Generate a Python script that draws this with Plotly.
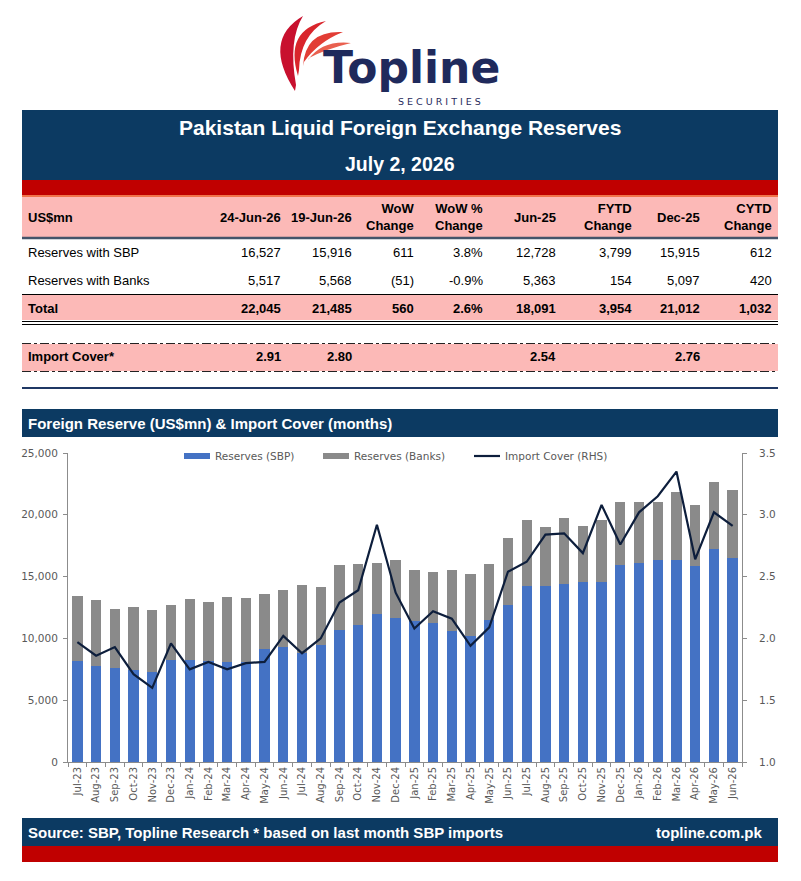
import plotly.graph_objects as go

# page body has an 8px margin: the figure is drawn inside it
OFF = 8
W, H = 784, 864


def fx(x):
    return (x - OFF) / W


def fy(y):
    return 1 - (y - OFF) / H


# ---------------- data ----------------
months = ["Jul-23", "Aug-23", "Sep-23", "Oct-23", "Nov-23", "Dec-23", "Jan-24", "Feb-24", "Mar-24",
          "Apr-24", "May-24", "Jun-24", "Jul-24", "Aug-24", "Sep-24", "Oct-24", "Nov-24", "Dec-24",
          "Jan-25", "Feb-25", "Mar-25", "Apr-25", "May-25", "Jun-25", "Jul-25", "Aug-25", "Sep-25",
          "Oct-25", "Nov-25", "Dec-25", "Jan-26", "Feb-26", "Mar-26", "Apr-26", "May-26", "Jun-26"]
reserves_sbp = [8140, 7790, 7580, 7470, 7250, 8230, 8230, 8140, 8060, 8060, 9140, 9330,
                8820, 9440, 10710, 11110, 12000, 11680, 11380, 11220, 10630, 10220, 11510, 12728,
                14270, 14270, 14370, 14540, 14540, 15915, 16130, 16320, 16370, 15830, 17210, 16527]
reserves_banks = [5320, 5340, 4830, 5100, 5070, 4450, 4980, 4830, 5320, 5240, 4480, 4610,
                  5530, 4750, 5260, 4940, 4130, 4690, 4180, 4150, 4930, 5020, 4540, 5363,
                  5340, 4770, 5400, 4580, 5070, 5097, 4880, 4740, 5450, 4990, 5420, 5517]
import_cover = [1.97, 1.86, 1.93, 1.71, 1.60, 1.96, 1.75, 1.81, 1.75, 1.80, 1.81, 2.02,
                1.88, 2.00, 2.29, 2.39, 2.92, 2.37, 2.08, 2.22, 2.16, 1.94, 2.09, 2.54,
                2.62, 2.84, 2.85, 2.69, 3.08, 2.76, 3.02, 3.15, 3.35, 2.64, 3.02, 2.91]
series_names = ["Reserves (SBP)", "Reserves (Banks)", "Import Cover (RHS)"]

# table
table_headers = ["24-Jun-26", "19-Jun-26", "WoW<br>Change", "WoW %<br>Change", "Jun-25",
                 "FYTD<br>Change", "Dec-25", "CYTD<br>Change"]
row_sbp = ["16,527", "15,916", "611", "3.8%", "12,728", "3,799", "15,915", "612"]
row_banks = ["5,517", "5,568", "(51)", "-0.9%", "5,363", "154", "5,097", "420"]
row_total = ["22,045", "21,485", "560", "2.6%", "18,091", "3,954", "21,012", "1,032"]
row_cover = ["2.91", "2.80", "", "", "2.54", "", "2.76", ""]

title = "Pakistan Liquid Foreign Exchange Reserves"
date_text = "July 2, 2026"
chart_title = "Foreign Reserve (US$mn) & Import Cover (months)"
source_text = "Source: SBP, Topline Research * based on last month SBP imports"
site_text = "topline.com.pk"

# ---------------- styles ----------------
NAVY = "#0c3a62"
RED = "#c00000"
PINK = "#fcb9b7"
BLUE = "#4472c4"
GRAY = "#8a8a8a"
LINE = "#0d1e3c"
AX = "#8c8c8c"
TXT = "#595959"
LOGO = "#1f2a5c"
ARIAL = "Liberation Sans, Arial, sans-serif"
VERD = "DejaVu Sans, Verdana, sans-serif"

fig = go.Figure()
fig.add_trace(go.Bar(x=months, y=reserves_sbp, name=series_names[0], marker_color=BLUE,
                     marker_line_width=0, showlegend=False))
fig.add_trace(go.Bar(x=months, y=reserves_banks, name=series_names[1], marker_color=GRAY,
                     marker_line_width=0, showlegend=False))
fig.add_trace(go.Scatter(x=months, y=import_cover, name=series_names[2], yaxis="y2", mode="lines",
                         line=dict(color=LINE, width=2.2), showlegend=False))

shapes = []
ann = []


def rect(x0, y0, x1, y1, color):
    shapes.append(dict(type="rect", xref="paper", yref="paper", x0=fx(x0), x1=fx(x1),
                       y0=fy(y1), y1=fy(y0), fillcolor=color, line_width=0, layer="below"))


def hline(x0, x1, y, color, width, dash="solid"):
    shapes.append(dict(type="line", xref="paper", yref="paper", x0=fx(x0), x1=fx(x1),
                       y0=fy(y), y1=fy(y), line=dict(color=color, width=width, dash=dash)))


def text(x, y, s, size, color="black", bold=False, xanchor="left", font=ARIAL):
    if bold:
        s = "<b>" + s + "</b>"
    ann.append(dict(xref="paper", yref="paper", x=fx(x), y=fy(y), text=s, showarrow=False,
                    xanchor=xanchor, yanchor="middle", align=xanchor if xanchor != "center" else "center",
                    font=dict(family=font, size=size, color=color)))


def P(x, y):
    return f"{fx(x):.5f},{fy(y):.5f}"


# ---------------- logo ----------------
crescents = [
    ((295, 91), (262, 40), (303, 16), (288, 40), (296, 85), "#c8102e"),
    ((298, 76), (284, 30), (326, 21), (300, 36), (299, 70), "#d9252c"),
    ((303, 66), (305, 30), (343, 32), (318, 42), (304, 62), "#e23d35"),
    ((308, 60), (322, 40), (351, 43), (326, 49), (309, 58), "#e9604f"),
]
for s0, c1, tip, c2, e0, col in crescents:
    path = f"M{P(*s0)} Q{P(*c1)} {P(*tip)} Q{P(*c2)} {P(*e0)} Z"
    shapes.append(dict(type="path", xref="paper", yref="paper", path=path, fillcolor=col,
                       line_width=0))
text(321, 68, "Topline", 44, color=LOGO, bold=True, font=VERD)
text(440, 101.5, "S E C U R I T I E S", 9.5, color=LOGO, xanchor="center", font=VERD)

# ---------------- title block ----------------
rect(22, 110, 778, 180, NAVY)
rect(22, 180, 778, 195, RED)
hline(22, 778, 196, "#f0744a", 2)
text(400, 128, title, 21, "white", True, "center")
text(400, 164, date_text, 19.5, "white", True, "center")

# ---------------- table ----------------
col_right = [283, 354, 416, 485, 558, 634, 702, 774]
rect(22, 197, 778, 237, PINK)
hline(22, 778, 238, "#44546a", 2.5)
text(26, 217, "US$mn", 13, "black", True)
for cx, h in zip(col_right, table_headers):
    text(cx, 217, h, 13, "black", True, "right")

text(26, 252, "Reserves with SBP", 13)
for cx, v in zip(col_right, row_sbp):
    text(cx, 252, v, 13, xanchor="right")
text(26, 280, "Reserves with Banks", 13)
for cx, v in zip(col_right, row_banks):
    text(cx, 280, v, 13, xanchor="right")
hline(22, 778, 294.5, "black", 1.2)
rect(22, 295, 778, 320, PINK)
text(26, 308, "Total", 13, "black", True)
for cx, v in zip(col_right, row_total):
    text(cx, 308, v, 13, "black", True, "right")
hline(22, 778, 321.5, "black", 1.2)
hline(22, 778, 324.5, "black", 1.2)

rect(22, 344, 778, 371, PINK)
hline(22, 778, 343.5, "#222222", 1.2, "dashdot")
hline(22, 778, 371.5, "#222222", 1.2, "dashdot")
text(26, 357, "Import Cover*", 13, "black", True)
for cx, v in zip(col_right, row_cover):
    if v:
        text(cx, 357, v, 13, "black", True, "right")
hline(22, 778, 388, "#1f3864", 2.2)

# ---------------- chart header ----------------
rect(22, 409, 778, 437, NAVY)
text(26, 423, chart_title, 15, "white", True)

# legend (manual)
rect(184, 453, 210, 459, BLUE)
text(213, 456, series_names[0], 10.5, TXT, font=VERD)
rect(323, 453, 349, 459, GRAY)
text(352, 456, series_names[1], 10.5, TXT, font=VERD)
hline(474, 500, 456, LINE, 2.2)
text(503, 456, series_names[2], 10.5, TXT, font=VERD)

# ---------------- footer ----------------
rect(22, 818, 778, 846, NAVY)
rect(22, 846, 778, 862, RED)
text(26, 832, source_text, 15, "white", True)
text(765, 832, site_text, 15, "white", True, "right")

fig.update_layout(
    width=W, height=H, margin=dict(l=0, r=0, t=0, b=0),
    paper_bgcolor="white", plot_bgcolor="white",
    barmode="stack", bargap=0.45,
    shapes=shapes, annotations=ann, showlegend=False,
    xaxis=dict(domain=[fx(68), fx(742)], type="category", tickson="boundaries", ticks="outside",
               ticklen=4, tickcolor=AX, showline=True, linecolor=AX, linewidth=1, tickangle=-90,
               tickfont=dict(family=VERD, size=10, color=TXT), showgrid=False, automargin=False),
    yaxis=dict(domain=[fy(762), fy(453)], range=[0, 25000], dtick=5000, tickformat=",",
               ticks="outside", ticklen=4, tickcolor=AX, showline=True, linecolor=AX,
               showgrid=False, zeroline=False, ticklabelstandoff=3, automargin=False,
               tickfont=dict(family=VERD, size=10.5, color=TXT)),
    yaxis2=dict(overlaying="y", side="right", range=[1, 3.5], dtick=0.5, tickformat=".1f",
                ticks="outside", ticklen=4, tickcolor=AX, showline=True, linecolor=AX,
                showgrid=False, zeroline=False, ticklabelstandoff=10, automargin=False,
                tickfont=dict(family=VERD, size=10.5, color=TXT)),
)

fig.write_html("out.html")
